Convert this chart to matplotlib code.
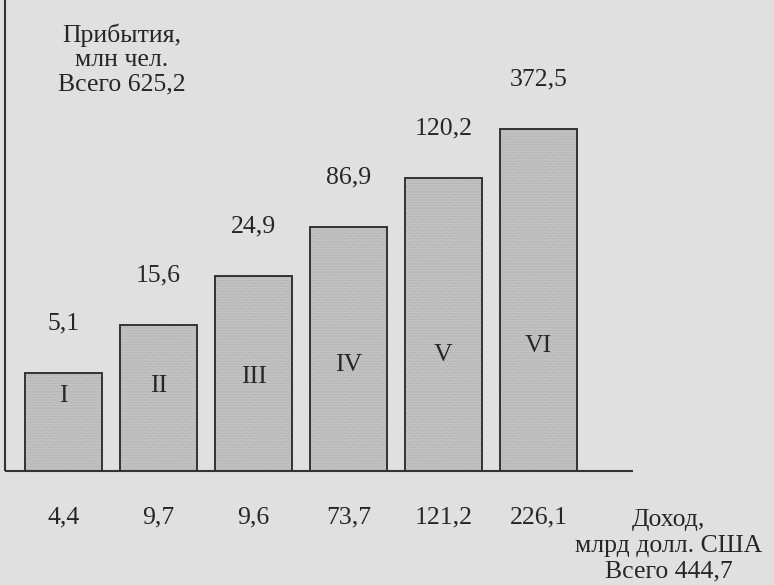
import numpy as np
import matplotlib.pyplot as plt

plt.rcParams['font.family'] = ['Liberation Serif', 'DejaVu Serif']
plt.rcParams['hatch.linewidth'] = 0.5

# data
regions = ['I', 'II', 'III', 'IV', 'V', 'VI']
arrivals = ['5,1', '15,6', '24,9', '86,9', '120,2', '372,5']   # млн чел.
income = ['4,4', '9,7', '9,6', '73,7', '121,2', '226,1']        # млрд долл.
# bars are drawn schematically (heights are not to scale)
bar_h = [98, 146, 195, 244, 293, 342]
roman_y = [75, 85, 94, 106, 116, 125]

txt = '#262626'
bg = '#e0e0e0'

fig = plt.figure(figsize=(7.74, 5.85), dpi=100, facecolor=bg)
ax = fig.add_axes([0, 0, 1, 1])
ax.set_facecolor(bg)
ax.axis('off')

x = np.arange(len(regions))
ax.set_xlim(-63.5 / 95, (774 - 63.5) / 95)
ax.set_ylim(-114, 471)

ax.bar(x, bar_h, width=0.81, color='#c2c2c2', edgecolor='#aaaaaa',
       hatch='......', linewidth=0)
ax.bar(x, bar_h, width=0.81, fill=False, edgecolor='#333333', linewidth=1.4)

# axes lines
x0 = (5 - 63.5) / 95
x1 = (633 - 63.5) / 95
ax.plot([x0, x0], [0, 471], color='#333333', lw=1.5, solid_capstyle='butt')
ax.plot([x0, x1], [0, 0], color='#333333', lw=1.5, solid_capstyle='butt')

fs = 18.5
for i in x:
    ax.text(i, bar_h[i] + 50, arrivals[i], ha='center', va='center',
            fontsize=fs, color=txt)
    ax.text(i, roman_y[i], regions[i], ha='center', va='center',
            fontsize=fs, color=txt)
    ax.text(i, -46, income[i], ha='center', va='center',
            fontsize=fs, color=txt)

ax.text(0.616, 412, 'Прибытия,\nмлн чел.\nВсего 625,2', ha='center',
        va='center', fontsize=fs, color=txt, linespacing=1.13)
ax.text(6.37, -75, 'Доход,\nмлрд долл. США\nВсего 444,7', ha='center',
        va='center', fontsize=fs, color=txt, linespacing=1.22)

fig.savefig('out.png', dpi=100, facecolor=bg)
